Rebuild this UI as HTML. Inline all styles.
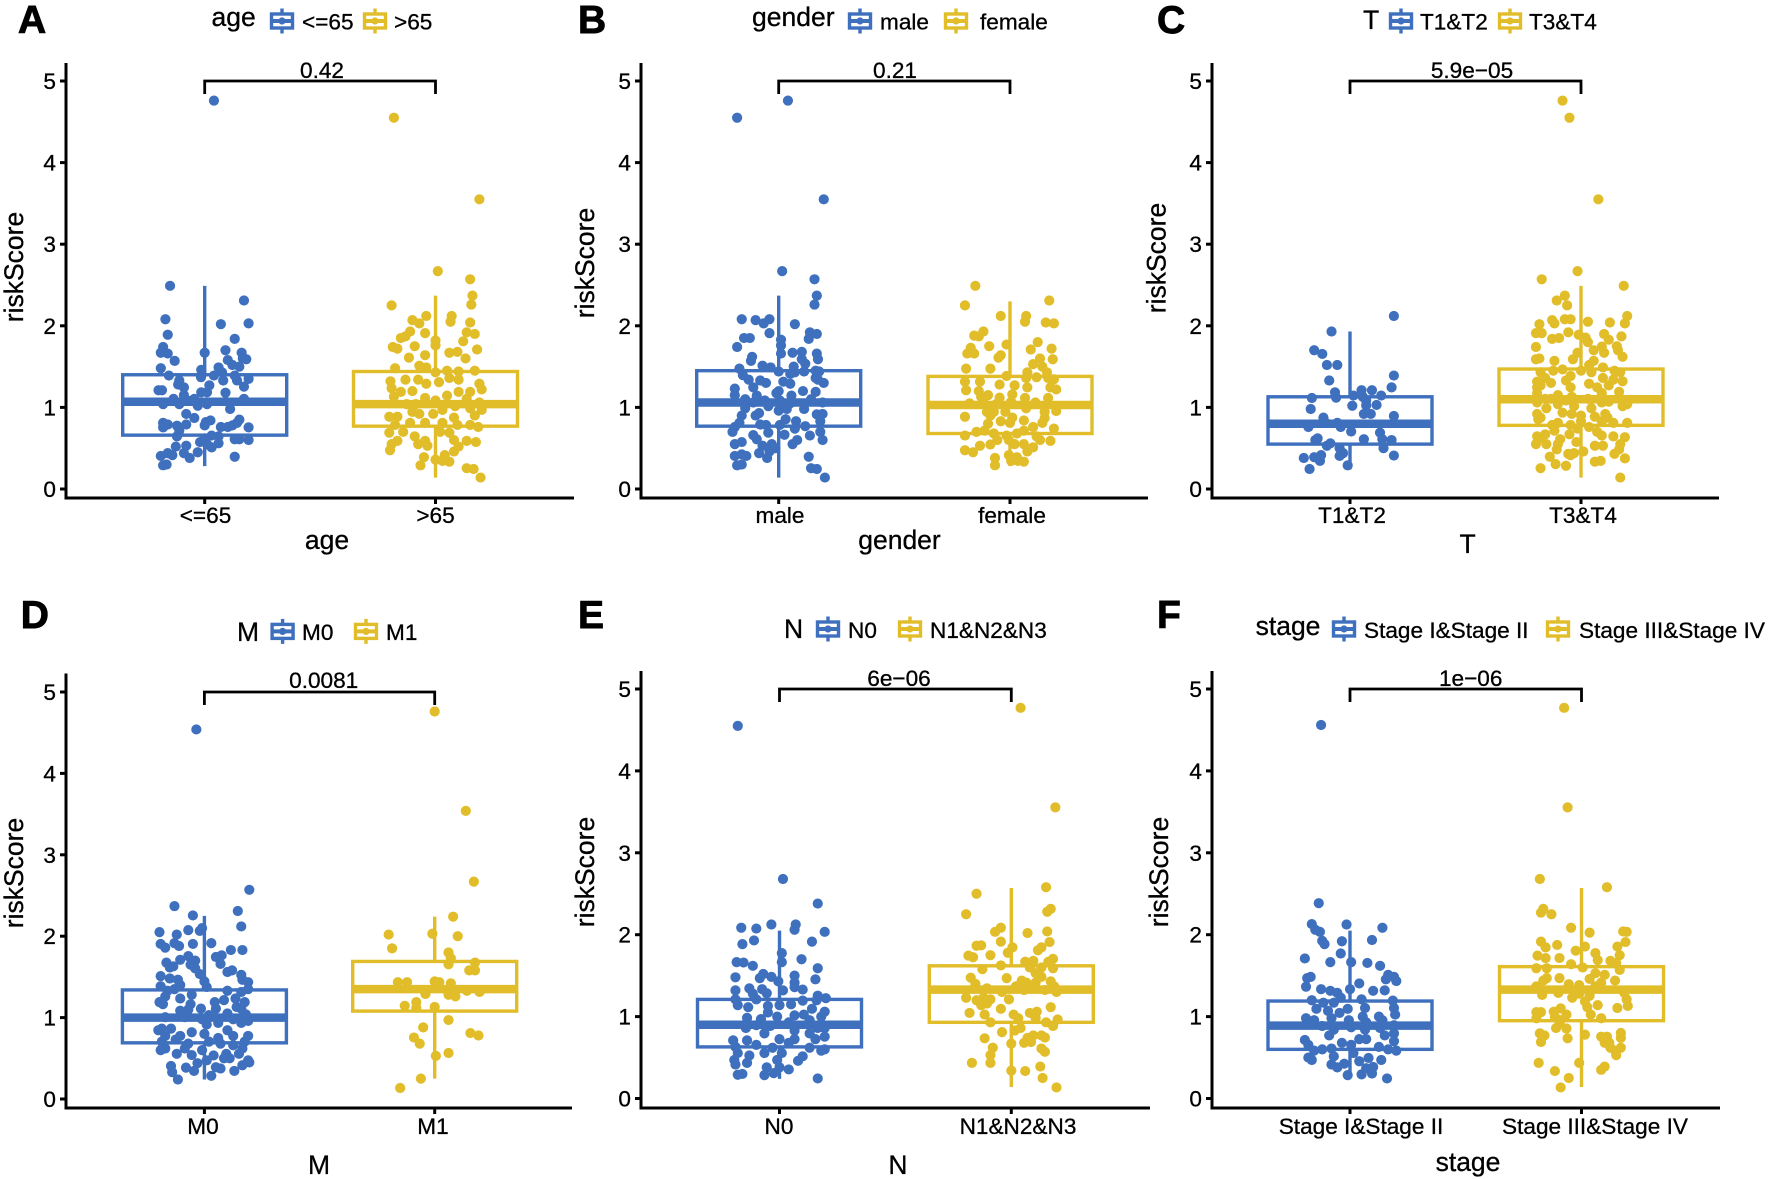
<!DOCTYPE html>
<html lang="en">
<head>
<meta charset="utf-8">
<title>riskScore boxplots by clinical group</title>
<style>
html,body{margin:0;padding:0;background:#fff;}
svg{display:block;}
text{font-family:"Liberation Sans",Arial,sans-serif;fill:#000;stroke:#000;stroke-width:.3px;}
</style>
</head>
<body>
<svg id="figure" xmlns="http://www.w3.org/2000/svg" width="1772" height="1179" viewBox="0 0 1772 1179"></svg>
<script>
/* ---------- values ---------- */
const yTickValues=[0,1,2,3,4,5];
const yTitle="riskScore";
const bracketValue=5;
const groupTitles=["age","gender","T","M","N","stage"];
const lowCategories=["<=65","male","T1&T2","M0","N0","Stage I&Stage II"];
const highCategories=[">65","female","T3&T4","M1","N1&N2&N3","Stage III&Stage IV"];
const pValues=["0.42","0.21","5.9e\u221205","0.0081","6e\u221206","1e\u221206"];

/* box stats, one entry per box: age-low, age-high, gender-male, gender-female, T-low, T-high, M0, M1, N0, N+, early, late */
const whiskerLow=[.28,.14,.14,.28,.24,.14,.24,.25,.24,.14,.28,.14];
const boxLower=[.66,.77,.77,.68,.55,.78,.69,1.08,.63,.93,.60,.95];
const boxMedian=[1.07,1.04,1.06,1.03,.80,1.10,1.0,1.35,.90,1.33,.89,1.33];
const boxUpper=[1.40,1.44,1.45,1.38,1.13,1.47,1.34,1.69,1.21,1.62,1.19,1.61];
const whiskerHigh=[2.49,2.37,2.37,2.30,1.93,2.49,2.25,2.24,2.05,2.57,2.05,2.57];

const ageLowScores=[4.76,2.49,2.31,2.08,2.02,2.03,1.89,1.84,1.74,1.67,1.66,1.67,1.70,1.67,1.59,1.60,1.57,1.58,1.48,1.46,1.49,1.52,1.50,1.39,1.37,1.39,1.43,1.39,1.33,1.33,1.35,1.33,1.28,1.245,1.27,1.255,1.21,1.21,1.185,1.185,1.18,1.15,1.105,1.105,1.04,1.04,1.08,1.105,1.02,1.04,.98,.92,.87,.84,.82,.78,.85,.81,.78,.76,.76,.755,.79,.81,.79,.755,.775,.715,.61,.61,.60,.645,.645,.62,.655,.575,.56,.55,.53,.52,.51,.44,.45,.44,.415,.405,.38,.395,.29,.30];
const ageLowJitter=[.04,-.15,.17,-.17,.07,.19,-.16,.13,-.18,-.19,-.16,0,.09,.16,.18,.165,-.13,.10,-.19,-.015,.06,.12,.15,-.155,-.016,.04,.075,.13,.08,.14,.19,-.11,-.115,-.09,.02,.17,-.2,-.185,-.015,.01,.09,-.09,-.135,.17,-.18,-.11,-.07,-.045,-.03,.01,.11,-.08,-.045,.025,.005,0,.15,.14,.12,.10,.07,.19,-.08,-.18,-.16,-.18,-.12,-.11,.13,.15,.19,.06,-.12,0,.03,-.02,.06,.01,-.08,-.125,.03,-.09,-.03,-.16,-.14,-.19,-.065,.13,-.18,-.165];

const ageHighScores=[4.55,3.55,2.67,2.57,2.37,2.26,2.25,2.07,2.03,2.12,2.12,2.05,2.04,1.93,1.91,1.92,1.90,1.85,1.87,1.81,1.82,1.75,1.76,1.74,1.72,1.71,1.67,1.68,1.61,1.64,1.60,1.48,1.51,1.49,1.45,1.44,1.45,1.43,1.32,1.34,1.34,1.29,1.31,1.36,1.34,1.29,1.22,1.235,1.19,1.2,1.13,1.145,1.19,1.19,1.115,1.105,1.085,1.06,1.04,1.04,1.015,.99,.97,.97,.945,.92,.885,.885,.92,.9,.875,.785,.81,.81,.81,.785,.785,.76,.70,.69,.70,.69,.645,.59,.59,.60,.59,.575,.55,.55,.53,.52,.475,.46,.415,.39,.36,.335,.345,.29,.255,.245,.14];
const ageHighJitter=[-.18,.19,.01,.15,.16,.155,-.19,-.10,-.07,-.04,.07,.065,.15,-.11,-.045,.135,.17,-.15,-.13,.12,0,-.09,0,-.185,-.165,.18,.06,.095,-.115,-.045,.13,-.175,-.07,-.04,.05,.1,.17,0,-.195,-.13,-.075,-.04,.015,.06,.1,.19,.2,-.19,-.15,-.1,-.18,.05,.1,.15,-.045,.135,0,.19,-.125,-.085,.085,.15,.2,.03,-.1,-.07,-.2,-.165,-.01,.17,.08,-.175,-.11,-.045,.03,.095,.15,.185,-.14,-.2,.02,.06,-.09,-.165,-.045,.08,.135,.175,-.19,-.075,-.035,.1,-.197,.08,.04,-.05,0,.06,.03,-.065,.135,.165,.195];

const genderMaleScores=[4.55,4.76,3.55,2.67,2.57,2.37,2.26,2.08,2.07,2.03,2.08,2.02,1.91,1.92,1.9,1.85,1.85,1.84,1.83,1.76,1.74,1.66,1.67,1.68,1.66,1.59,1.62,1.57,1.59,1.535,1.51,1.49,1.5,1.475,1.44,1.41,1.44,1.45,1.44,1.395,1.43,1.34,1.33,1.3,1.315,1.29,1.36,1.34,1.3,1.245,1.23,1.2,1.2,1.19,1.145,1.15,1.175,1.145,1.1,1.085,1.06,1.085,1.1,1.06,.99,1.015,1.05,.93,.96,.98,.98,.915,.92,.9,.9,.855,.83,.83,.81,.79,.785,.76,.785,.77,.74,.7,.7,.69,.66,.665,.655,.61,.6,.6,.575,.55,.55,.55,.53,.5,.44,.46,.425,.405,.405,.38,.395,.29,.3,.255,.245,.14];
const genderMaleJitter=[-.18,.04,.195,.015,.155,.165,.155,-.16,-.1,-.065,-.04,.07,-.04,.135,.165,-.15,-.125,.13,.01,.01,-.18,.01,.06,.1,.165,.17,-.115,-.12,.1,.115,-.07,-.035,.065,-.17,0,.05,.11,.16,.175,-.155,.07,-.13,-.08,-.055,.02,.05,.16,.17,.195,-.11,-.19,.105,0,.16,-.095,-.19,-.01,.055,-.145,-.06,-.11,.005,.14,.19,-.145,-.045,.05,-.085,0,.035,.11,.165,.19,-.16,-.1,.03,.075,.18,-.17,-.08,-.055,-.19,.005,.115,.07,-.2,.18,-.045,-.11,.025,.135,-.095,.08,.19,-.16,-.19,.06,-.03,-.07,-.015,-.085,-.04,-.16,-.19,-.14,-.05,.13,-.18,-.16,.14,.165,.2];

const genderFemaleScores=[2.49,2.31,2.25,2.12,2.12,2.05,2.04,2.03,1.93,1.88,1.87,1.8,1.77,1.75,1.73,1.71,1.72,1.66,1.66,1.685,1.64,1.61,1.6,1.59,1.53,1.475,1.475,1.5,1.43,1.43,1.385,1.36,1.37,1.36,1.345,1.315,1.315,1.28,1.27,1.245,1.245,1.22,1.21,1.2,1.15,1.16,1.13,1.12,1.115,1.115,1.05,1.04,1.04,1.07,1.06,.99,.955,.945,.945,.945,.945,.885,.9,.875,.87,.83,.84,.81,.81,.8,.76,.74,.715,.7,.68,.68,.715,.655,.655,.645,.6,.6,.6,.59,.545,.55,.55,.53,.51,.475,.45,.46,.415,.39,.38,.345,.345,.335,.29];
const genderFemaleJitter=[-.15,.17,-.195,-.04,.07,.065,.155,.19,-.115,-.155,-.135,.12,-.015,-.09,-.17,.09,.18,-.185,-.155,-.17,-.04,-.05,.13,.185,.1,-.19,-.085,.14,.075,.16,-.015,.07,.115,.165,.19,-.195,-.13,-.045,.02,.075,.175,.2,-.19,-.135,-.095,.01,-.125,-.045,.065,.165,-.175,-.11,-.06,.005,.11,.07,.2,-.1,-.07,-.02,.15,-.195,-.085,.01,.15,-.04,.06,0,.14,-.095,.1,.19,.06,-.145,-.07,.03,-.11,-.195,-.015,.115,-.055,-.005,.13,.175,-.085,.02,.06,-.13,.1,-.195,-.16,.075,-.005,.03,-.065,.005,.035,.06,-.065];

const tLowScores=[2.12,1.93,1.7,1.655,1.52,1.52,1.39,1.33,1.245,1.185,1.21,1.21,1.145,1.12,1.145,1.115,1.13,1.085,1.02,1.025,1.03,.98,.92,.92,.895,.875,.81,.81,.76,.76,.705,.69,.62,.6,.61,.61,.6,.56,.53,.5,.5,.44,.405,.415,.41,.38,.39,.345,.29,.245];
const tLowJitter=[.19,-.08,-.155,-.12,-.1,-.055,.19,-.09,.18,-.065,.05,.095,.135,-.06,.015,-.165,.055,.07,.01,.07,.115,-.17,.06,.09,.19,-.115,-.105,-.055,-.18,-.04,.005,.13,-.14,-.15,.06,.14,.18,-.085,-.1,-.045,.145,-.03,-.045,-.125,.19,-.2,-.155,-.13,-.01,-.175];

const tHighScores=[4.76,4.55,3.55,2.67,2.57,2.49,2.37,2.31,2.25,2.12,2.07,2.08,2.08,2.05,2.04,2.03,2.02,2.03,1.92,1.91,1.91,1.89,1.9,1.87,1.84,1.85,1.855,1.83,1.8,1.74,1.75,1.745,1.7,1.67,1.67,1.7,1.62,1.59,1.6,1.59,1.57,1.57,1.52,1.49,1.45,1.45,1.465,1.43,1.45,1.43,1.43,1.385,1.36,1.36,1.34,1.315,1.3,1.33,1.32,1.29,1.245,1.27,1.245,1.245,1.27,1.19,1.175,1.15,1.175,1.13,1.105,1.105,1.105,1.085,1.085,1.07,1.06,1.06,1.04,1.04,1.015,.99,.99,1.015,.92,.935,.92,.92,.875,.9,.885,.875,.855,.81,.83,.83,.81,.785,.785,.81,.76,.715,.74,.7,.67,.67,.655,.645,.645,.635,.62,.61,.575,.55,.55,.55,.53,.53,.55,.485,.485,.46,.43,.44,.43,.415,.395,.375,.335,.345,.305,.285,.255,.14];
const tHighJitter=[-.08,-.05,.075,-.015,-.17,.185,-.07,-.105,-.06,.2,-.125,-.07,-.045,.03,.125,.19,-.18,-.115,-.055,-.195,-.17,-.01,.1,.175,-.125,-.095,.02,.12,.03,-.195,.155,.09,.055,-.015,.1,.16,.18,-.195,-.18,-.035,-.115,.055,.035,.095,.145,-.12,-.08,-.175,0,.045,.17,-.045,.095,-.155,.14,-.19,-.13,-.065,.18,.035,-.19,-.175,-.045,.07,.12,.165,-.19,-.1,.09,-.04,-.13,-.155,.03,.18,-.065,.12,-.19,.09,.2,-.1,-.03,-.15,.045,.18,-.19,-.08,-.04,.105,-.175,0,.06,.115,-.185,-.1,0,.09,.2,-.125,-.045,.14,.035,-.115,-.015,.07,-.155,-.05,.09,-.19,.14,.19,-.175,-.09,-.02,-.1,-.195,-.15,.06,.095,.17,-.105,.165,.01,-.055,-.03,.145,-.045,-.135,.19,.06,.085,-.11,-.065,-.175,.17];

const mZeroScores=[4.54,2.57,2.37,2.31,2.255,2.12,2.1,2.05,2.02,2.075,2.065,1.915,1.905,1.86,1.915,1.88,1.905,1.83,1.83,1.745,1.765,1.755,1.71,1.7,1.675,1.66,1.63,1.65,1.615,1.56,1.58,1.605,1.535,1.525,1.51,1.48,1.465,1.465,1.435,1.445,1.4,1.385,1.375,1.33,1.35,1.33,1.35,1.315,1.28,1.235,1.235,1.26,1.215,1.19,1.19,1.19,1.165,1.165,1.11,1.13,1.11,1.11,1.1,1.085,1.005,1.05,1.03,1.04,1.005,.98,.98,.935,.96,.915,.935,.865,.845,.865,.845,.82,.775,.775,.775,.8,.75,.775,.705,.73,.68,.705,.705,.68,.66,.6,.62,.62,.6,.62,.555,.54,.555,.555,.535,.5,.5,.475,.475,.44,.45,.405,.415,.385,.39,.375,.345,.33,.345,.285,.24];
const mZeroJitter=[-.035,.195,-.13,.145,-.05,.16,-.01,-.195,-.12,-.07,-.02,.03,-.19,-.17,-.13,-.11,-.05,.115,.165,.05,.075,-.07,-.105,-.04,-.165,.07,-.135,-.06,-.15,.1,.12,-.04,-.02,.16,-.19,-.15,-.115,.165,.19,0,-.105,-.19,.01,.1,.19,-.16,-.13,.16,-.055,.135,-.105,-.17,.085,.045,.175,-.195,-.18,-.06,-.015,.14,.05,.16,-.07,-.105,-.17,.1,.02,.18,-.085,.125,-.01,.06,.19,.01,.16,-.185,-.2,-.145,.1,-.055,-.105,.19,-.17,0,.06,.125,.175,-.125,-.07,.02,-.185,.07,.125,-.19,-.17,-.085,-.01,.165,-.12,-.055,.095,.15,.04,.085,.11,.19,.01,-.03,.195,-.145,.165,-.08,.05,.07,-.045,-.14,.13,.03,-.115];

const mOneScores=[4.76,3.54,2.67,2.24,2.03,2.02,2.0,1.85,1.8,1.73,1.655,1.675,1.58,1.58,1.435,1.435,1.445,1.435,1.42,1.29,1.28,1.26,1.33,1.315,1.35,1.19,1.145,1.12,1.13,.97,.88,.755,.81,.78,.68,.565,.53,.25,.135];
const mOneJitter=[0,.135,.17,.08,-.01,-.2,.1,-.185,.06,.07,.06,.175,.15,.175,-.16,-.12,0,.02,.07,-.04,.06,.09,.14,.195,.07,-.08,-.13,-.08,0,.06,-.05,-.09,.155,.19,-.065,.06,.005,-.06,-.15];

const nZeroScores=[4.55,2.68,2.38,2.125,2.125,2.06,2.085,2.075,2.035,1.915,1.885,1.93,1.775,1.7,1.665,1.665,1.66,1.62,1.59,1.48,1.52,1.47,1.485,1.5,1.455,1.415,1.43,1.36,1.33,1.345,1.32,1.335,1.32,1.285,1.28,1.255,1.225,1.21,1.21,1.195,1.2,1.14,1.15,1.13,1.115,1.095,1.14,1.06,1.05,1.015,.985,1,1.025,1,.97,.955,.93,.895,.885,.86,.86,.83,.86,.795,.795,.755,.71,.71,.725,.725,.725,.655,.63,.62,.68,.62,.585,.6,.555,.555,.555,.525,.46,.515,.47,.47,.435,.415,.38,.355,.38,.285,.29,.3,.245,.31];
const nZeroJitter=[-.18,.015,.165,-.035,.07,.065,-.165,-.1,.195,.14,-.16,-.11,.01,.095,.01,-.185,-.155,-.115,.165,-.19,-.07,-.085,-.035,.065,.155,.065,-.005,.065,.1,-.13,-.19,-.075,.015,-.055,-.115,.165,.2,-.19,-.1,.1,.16,-.18,.05,-.05,-.135,.14,0,.195,-.05,.065,-.14,-.01,.105,.18,-.08,.13,.04,-.1,-.04,-.145,.165,.065,.195,-.065,.13,.195,-.14,-.2,.065,0,.155,-.1,-.19,-.03,.04,.13,.18,.195,-.065,.01,-.18,-.13,.08,.1,-.195,-.01,-.14,-.19,-.055,.04,0,-.065,-.18,-.16,.165,-.025];

const nPosScores=[4.77,3.555,2.58,2.5,2.315,2.28,2.25,2.085,2.035,2.02,2.04,1.915,1.91,1.865,1.87,1.845,1.78,1.845,1.81,1.75,1.745,1.725,1.705,1.67,1.68,1.67,1.625,1.6,1.6,1.59,1.58,1.53,1.475,1.47,1.485,1.44,1.4,1.415,1.415,1.43,1.37,1.37,1.37,1.345,1.3,1.325,1.3,1.325,1.23,1.23,1.2,1.21,1.21,1.14,1.16,1.095,1.115,1.045,1.025,1.045,1.06,1.025,.98,.98,.965,.93,.93,.885,.86,.83,.81,.77,.77,.745,.735,.74,.68,.67,.69,.62,.61,.57,.53,.435,.435,.39,.34,.335,.25,.135];
const nPosJitter=[.04,.19,.15,-.15,.17,.155,-.195,-.045,-.07,.07,.155,-.045,.165,-.15,-.13,.005,-.015,.13,.115,-.09,-.185,-.165,.18,.06,.095,.16,-.045,.08,.13,.18,-.125,.105,-.175,-.02,.13,.045,-.155,.065,.105,.17,.02,.08,.185,-.105,-.04,.055,.195,.145,-.195,-.12,-.15,-.09,-.01,-.13,-.105,-.045,.17,-.18,-.115,.08,.11,.01,.03,.105,.2,.15,-.09,.18,.04,.015,-.04,.095,.13,.145,-.115,.07,.055,0,.085,-.08,.13,.145,-.09,-.17,-.09,.125,0,.06,.135,.195];

const stageEarlyScores=[4.56,2.385,2.13,2.125,2.085,2.06,2.035,1.935,1.92,1.925,1.885,1.77,1.71,1.665,1.665,1.655,1.62,1.51,1.47,1.485,1.485,1.455,1.435,1.405,1.365,1.335,1.315,1.32,1.335,1.315,1.29,1.23,1.21,1.2,1.195,1.17,1.17,1.105,1.105,1.095,1.095,1.07,1.045,1.025,1,1,.98,.98,.955,.955,.955,.93,.885,.87,.86,.895,.84,.84,.77,.77,.795,.715,.725,.725,.68,.7,.655,.655,.63,.61,.585,.6,.6,.585,.5,.47,.515,.555,.495,.455,.47,.415,.425,.38,.37,.385,.285,.295,.305,.245];
const stageEarlyJitter=[-.125,-.135,-.165,-.015,.14,-.15,-.13,.095,-.035,-.12,-.11,-.04,-.195,-.085,.005,.075,.13,.165,-.185,-.17,.19,.155,.2,.04,-.19,0,.1,.15,-.125,-.085,-.055,-.04,.05,-.165,.185,-.115,-.07,.19,.065,-.145,-.01,-.095,-.045,.195,.055,.125,-.19,-.08,-.155,-.005,.14,.07,-.12,.005,.13,.19,-.07,.065,-.09,.15,.19,-.195,.04,.07,-.035,.19,-.18,.005,.125,-.08,-.155,-.12,.165,.2,-.18,-.165,-.07,.015,.08,.04,.135,-.08,-.025,-.055,.07,.1,-.01,.05,.095,.16];

const stageLateScores=[4.77,3.555,2.68,2.58,2.315,2.27,2.25,2.085,2.025,2.04,2.035,1.915,1.91,1.875,1.845,1.855,1.855,1.805,1.775,1.745,1.715,1.715,1.75,1.69,1.68,1.655,1.64,1.59,1.59,1.6,1.57,1.53,1.51,1.47,1.47,1.44,1.46,1.44,1.415,1.395,1.37,1.385,1.37,1.29,1.265,1.28,1.34,1.255,1.29,1.23,1.21,1.185,1.14,1.105,1.13,1.1,1.115,1.06,1.055,1.055,1.025,1.025,1,.98,.98,.955,.86,.855,.91,.795,.77,.8,.78,.735,.755,.755,.74,.69,.68,.68,.62,.62,.585,.53,.435,.435,.39,.35,.335,.25,.135];
const stageLateJitter=[-.075,-.06,-.18,.11,-.165,-.175,-.13,-.045,.035,.18,.195,-.175,.19,-.105,-.155,.015,.155,-.025,.06,-.19,-.155,-.095,.165,.07,.125,.15,-.045,-.195,-.15,.005,.165,.06,.1,-.095,-.15,-.165,.035,.145,.085,-.055,-.195,-.01,.06,-.1,-.17,-.01,.085,.035,.185,-.04,.195,.015,.07,.155,.2,-.09,.025,-.12,-.195,-.175,-.065,.04,-.115,-.195,.085,-.09,-.11,-.065,-.095,-.18,-.16,.17,.015,-.06,.085,.11,.17,-.175,.1,.12,.125,.17,.145,.15,-.185,-.01,.1,.085,-.115,-.055,-.09];

const scoreSeries=[ageLowScores,ageHighScores,genderMaleScores,genderFemaleScores,tLowScores,tHighScores,mZeroScores,mOneScores,nZeroScores,nPosScores,stageEarlyScores,stageLateScores];
const jitterSeries=[ageLowJitter,ageHighJitter,genderMaleJitter,genderFemaleJitter,tLowJitter,tHighJitter,mZeroJitter,mOneJitter,nZeroJitter,nPosJitter,stageEarlyJitter,stageLateJitter];

/* ---------- layout (not data) ---------- */
const BLUE="#3E70BE",YELLOW="#E2BD2A";
const COLORS=[BLUE,YELLOW];
const layouts=[
 {letter:"A",lx:18,ly:33,ax:66,right:574,bottom:498,top:63,y0:489,unit:81.6,cx:[204.7,435.5],spacing:231,
  tl:[205.5,435.5],tly:523,xtx:327,xty:549,ytx:23,yty:267,px:322,py:78,
  lt:[211.5,26],keys:[270,363],keyY:21,labels:[302,394],laby:29.4},
 {letter:"B",lx:578,ly:33,ax:641,right:1148,bottom:498,top:63,y0:489,unit:81.6,cx:[778.7,1010],spacing:231,
  tl:[780,1012],tly:523,xtx:899.5,xty:549,ytx:594,yty:263,px:895,py:78,
  lt:[752,26],keys:[848,944],keyY:21,labels:[880,980],laby:29.4},
 {letter:"C",lx:1157,ly:33,ax:1212,right:1719,bottom:498,top:63,y0:489,unit:81.6,cx:[1350,1581],spacing:231,
  tl:[1352,1583],tly:523,xtx:1467.6,xty:553,ytx:1165.5,yty:258,px:1472,py:78,
  lt:[1363,29],keys:[1389,1498],keyY:21,labels:[1420,1529],laby:29.4},
 {letter:"D",lx:20.7,ly:628,ax:66,right:572,bottom:1108,top:673.5,y0:1099,unit:81.4,cx:[204.4,434.7],spacing:230.3,
  tl:[203,433],tly:1134,xtx:319,xty:1174,ytx:23,yty:873,px:323.7,py:688,
  lt:[237,641],keys:[270.6,354],keyY:631.4,labels:[302,386],laby:640},
 {letter:"E",lx:578,ly:628,ax:641,right:1150,bottom:1108,top:671,y0:1098.5,unit:81.9,cx:[779.5,1011.3],spacing:231.8,
  tl:[779,1018],tly:1134,xtx:898,xty:1174,ytx:594,yty:872,px:899,py:686,
  lt:[784,638],keys:[816,898],keyY:629,labels:[848,930],laby:638},
 {letter:"F",lx:1157,ly:628,ax:1212,right:1720,bottom:1108,top:671,y0:1098.5,unit:81.9,cx:[1350,1581.5],spacing:231.5,
  tl:[1361,1595],tly:1134,xtx:1468,xty:1171,ytx:1168,yty:872,px:1470.7,py:686,
  lt:[1255.6,635],keys:[1332,1546],keyY:629,labels:[1364,1579],laby:638}
];

const NS="http://www.w3.org/2000/svg";
const root=document.getElementById("figure");
function mk(tag,attrs,parent,content){
  const el=document.createElementNS(NS,tag);
  for(const k in attrs){el.setAttribute(k,attrs[k]);}
  if(content!==undefined){el.textContent=content;}
  parent.appendChild(el);
  return el;
}

layouts.forEach(function(L,p){
  const yScale=function(v){return L.y0-v*L.unit;};
  const xScale=function(c,j){return L.cx[c]+j*L.spacing;};
  const panel=mk("g",{},root);
  
  

  const letter=mk("text",{x:L.lx,y:L.ly,"font-size":39,"font-weight":"bold",style:"stroke-width:.9px"},panel,L.letter);
  
  

  /* legend */
  const legTitle=mk("text",{x:L.lt[0],y:L.lt[1],"font-size":26.5},panel,groupTitles[p]);
  
  
  [lowCategories[p],highCategories[p]].forEach(function(cat,c){
    const entry=mk("g",{},panel);
    
    
    const kx=L.keys[c],ky=L.keyY,col=COLORS[c];
    const whisk=mk("line",{x1:kx+12,x2:kx+12,y1:ky-12.5,y2:ky+12.5,stroke:col,"stroke-width":3.4},entry);
    
    
    const kb=mk("rect",{x:kx+1.5,y:ky-7,width:21,height:14,fill:"#fff",stroke:col,"stroke-width":3.4},entry);
    
    
    const km=mk("line",{x1:kx+1.5,x2:kx+22.5,y1:ky,y2:ky,stroke:col,"stroke-width":4},entry);
    
    
    const kd=mk("circle",{cx:kx+12,cy:ky,r:3.6,fill:col},entry);
    
    
    const lab=mk("text",{x:L.labels[c],y:L.laby,"font-size":22.6},entry,cat);
    
    
  });

  /* boxes and points */
  [0,1].forEach(function(c){
    const idx=p*2+c,col=COLORS[c],cx=xScale(c,0),half=82;
    const series=mk("g",{},panel);
    
    
    const wh=mk("line",{x1:cx,x2:cx,y1:yScale(whiskerLow[idx]),y2:yScale(whiskerHigh[idx]),stroke:col,"stroke-width":3.4},series);
    
    
    const box=mk("rect",{x:cx-half,y:yScale(boxUpper[idx]),width:half*2,height:yScale(boxLower[idx])-yScale(boxUpper[idx]),fill:"#fff",stroke:col,"stroke-width":3.4},series);
    
    
    const med=mk("line",{x1:cx-half,x2:cx+half,y1:yScale(boxMedian[idx]),y2:yScale(boxMedian[idx]),stroke:col,"stroke-width":8.5},series);
    
    
    const scores=scoreSeries[idx],jit=jitterSeries[idx];
    scores.forEach(function(v,i){
      const dot=mk("circle",{cx:xScale(c,jit[i]),cy:yScale(v),r:5.1,fill:col},series);
      
      
    });
  });

  /* axes */
  const yAxis=mk("line",{x1:L.ax,x2:L.ax,y1:L.top,y2:L.bottom+1.5,stroke:"#000","stroke-width":3},panel);
  
  
  const xAxis=mk("line",{x1:L.ax-1.5,x2:L.right,y1:L.bottom,y2:L.bottom,stroke:"#000","stroke-width":3},panel);
  
  
  yTickValues.forEach(function(t){
    const tick=mk("line",{x1:L.ax-6,x2:L.ax,y1:yScale(t),y2:yScale(t),stroke:"#000","stroke-width":3},panel);
    
    
    const lab=mk("text",{x:L.ax-10,y:yScale(t)+8,"font-size":22.6,"text-anchor":"end"},panel,String(t));
    
    
  });
  [lowCategories[p],highCategories[p]].forEach(function(cat,c){
    const tick=mk("line",{x1:xScale(c,0),x2:xScale(c,0),y1:L.bottom,y2:L.bottom+6,stroke:"#000","stroke-width":3},panel);
    
    
    const lab=mk("text",{x:L.tl[c],y:L.tly,"font-size":22.6,"text-anchor":"middle"},panel,cat);
    
    
  });
  const xt=mk("text",{x:L.xtx,y:L.xty,"font-size":26.5,"text-anchor":"middle"},panel,groupTitles[p]);
  
  
  const yt=mk("text",{x:0,y:0,"font-size":26.5,"text-anchor":"middle",transform:"translate("+L.ytx+" "+L.yty+") rotate(-90)"},panel,yTitle);
  
  

  /* significance bracket */
  const by=yScale(bracketValue),bx0=xScale(0,0),bx1=xScale(1,0);
  const br=mk("polyline",{points:bx0+","+(by+13)+" "+bx0+","+by+" "+bx1+","+by+" "+bx1+","+(by+13),fill:"none",stroke:"#000","stroke-width":2.8},panel);
  
  
  const pl=mk("text",{x:L.px,y:L.py,"font-size":22.6,"text-anchor":"middle"},panel,pValues[p]);
  
  
});
</script>
</body>
</html>
